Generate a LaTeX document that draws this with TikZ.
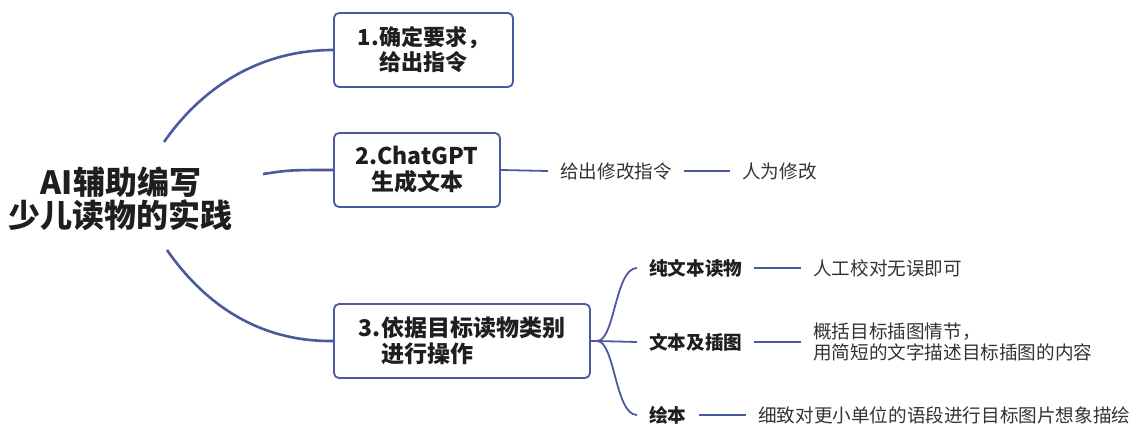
\documentclass[tikz,border=0pt]{standalone}
\usepackage{fontspec}
\newfontfamily\cjk{Noto Sans CJK SC}
\definecolor{linecol}{HTML}{4A5A9C}
\definecolor{txtcol}{HTML}{1E1E1E}
\definecolor{leafcol}{HTML}{333333}
\begin{document}
\begin{tikzpicture}[x=1pt,y=-1pt,
  box/.style={draw=linecol,line width=1.8pt,rounded corners=5pt,fill=white,inner sep=0pt,
    font=\cjk\bfseries\fontsize{23}{26}\selectfont,text=txtcol},
  rootnode/.style={inner sep=0pt,align=center,font=\cjk\bfseries\fontsize{32}{33}\selectfont,text=txtcol},
  leaf/.style={inner xsep=12pt,inner ysep=0pt,anchor=west,font=\cjk\fontsize{18.6}{21}\selectfont,text=leafcol},
  leafb/.style={leaf,font=\cjk\bfseries\fontsize{18.6}{21}\selectfont,text=txtcol},
  mainline/.style={draw=linecol,line width=2.6pt},
  subline/.style={draw=linecol,line width=1.8pt}]
\useasboundingbox (0,0) rectangle (1132,425);
% root
\node[rootnode] (root) at (121,198.5) {AI辅助编写\\少儿读物的实践};
% boxes
\node[box,minimum width=179pt,minimum height=74pt,align=center,font=\cjk\bfseries\fontsize{22}{25}\selectfont] (b1) at (423.5,50) {1.确定要求，\\给出指令};
\node[box,minimum width=166pt,minimum height=74pt,align=center] (b2) at (417,170) {2.ChatGPT\\生成文本};
\node[box,minimum width=256pt,minimum height=74pt,align=left] (b3) at (462,341) {3.依据目标读物类别\\\phantom{3.}进行操作};
% root connectors
\coordinate (s1) at (164,142);
\coordinate (s2) at (263,174);
\coordinate (s3) at (167,250);
\draw[mainline] (s1) .. controls (198,93) and (254,50) .. (b1.west);
\draw[mainline] (s2) .. controls (290,170) .. (b2.west);
\draw[mainline] (s3) .. controls (201,299) and (254,342) .. (b3.west);
% box 2 chain
\node[leaf] (m1) at (548,171) {给出修改指令};
\node[leaf] (m2) at (730,171) {人为修改};
\draw[subline] (b2.east) -- (m1.west);
\draw[subline] (m1.east) -- (m2.west);
% box 3 branches
\coordinate (br) at (597,341);
\node[leafb] (c1) at (637,268) {纯文本读物};
\node[leafb] (c2) at (637,342) {文本及插图};
\node[leafb] (c3) at (637,415) {绘本};
\draw[subline] (b3.east) -- (br);
\draw[subline] (br) .. controls (615,341) and (615,268) .. (c1.west);
\draw[subline] (br) -- (c2.west);
\draw[subline] (br) .. controls (615,341) and (615,415) .. (c3.west);
\node[leaf] (d1) at (801,268) {人工校对无误即可};
\node[leaf,align=left] (d2) at (801,342) {概括目标插图情节，\\用简短的文字描述目标插图的内容};
\node[leaf] (d3) at (746,415) {细致对更小单位的语段进行目标图片想象描绘};
\draw[subline] (c1.east) -- (d1.west);
\draw[subline] (c2.east) -- (d2.west);
\draw[subline] (c3.east) -- (d3.west);
\end{tikzpicture}
\end{document}
